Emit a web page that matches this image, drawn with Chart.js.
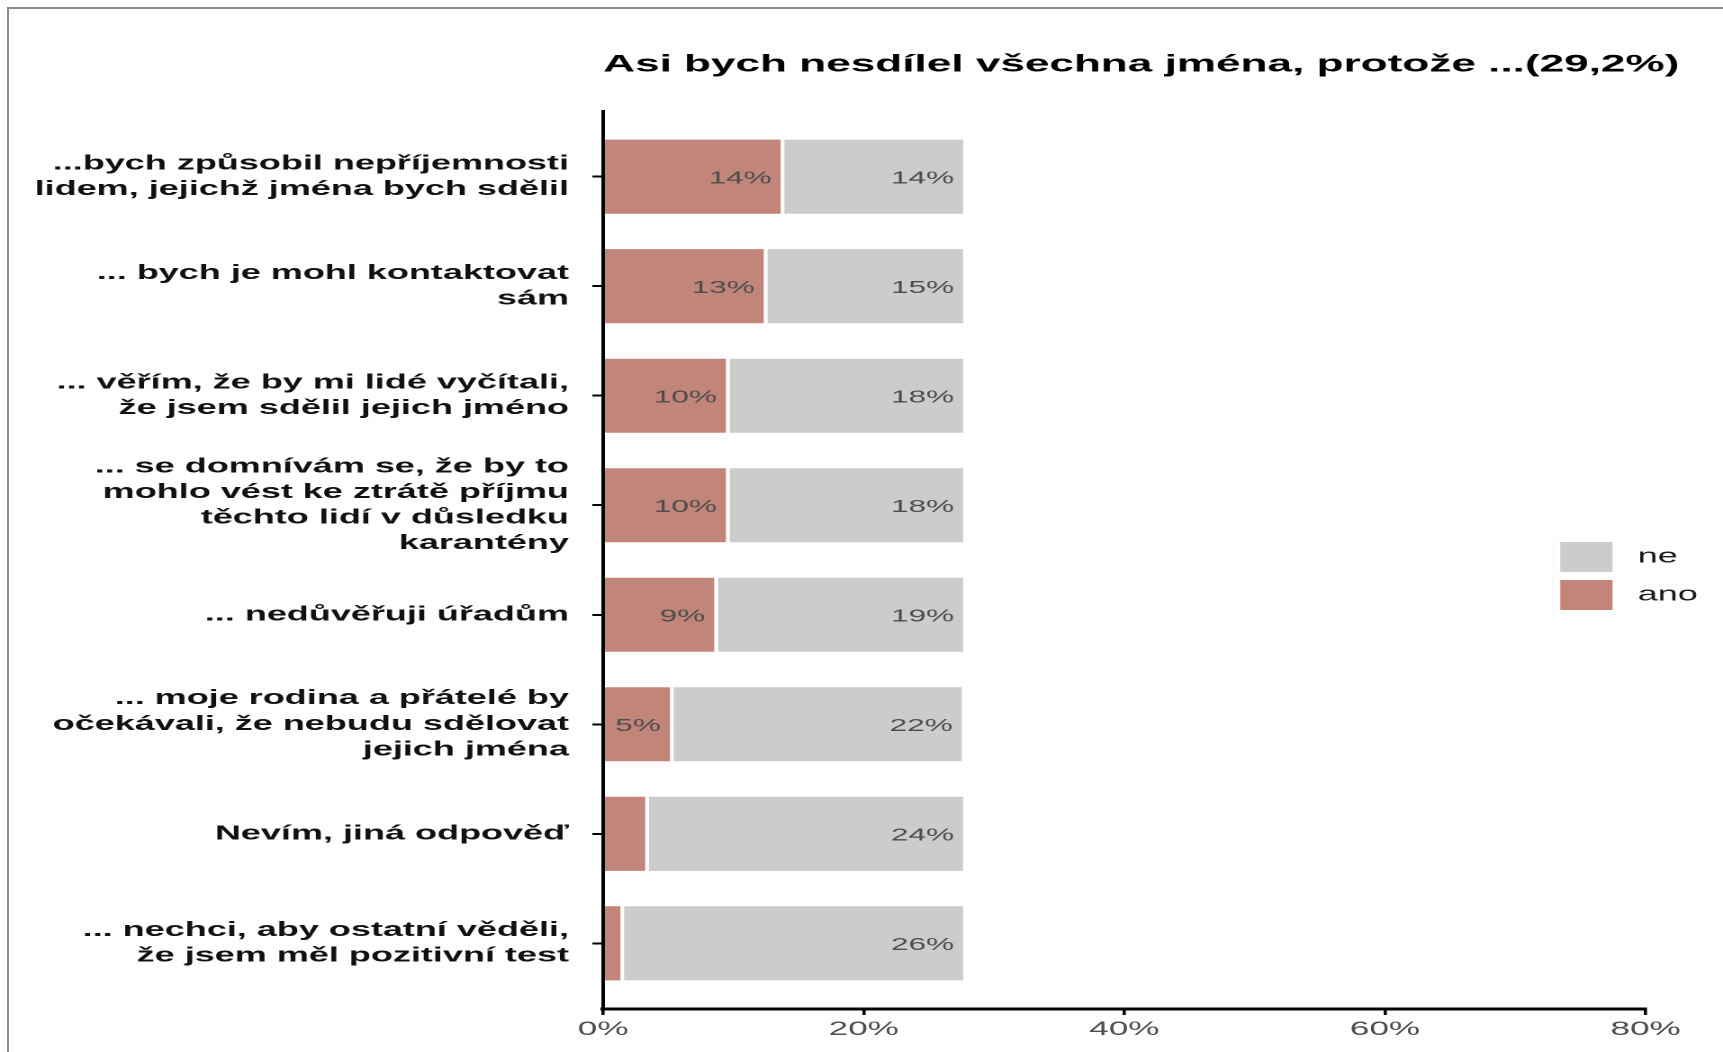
<!DOCTYPE html>
<html>
<head>
<meta charset="utf-8">
<title>Asi bych nesdílel všechna jména</title>
<script src="https://cdn.jsdelivr.net/npm/chart.js@4.4.1/dist/chart.umd.min.js"></script>
<style>
  html, body { margin: 0; padding: 0; background: #fff; overflow: hidden; }
  #wrap { position: relative; width: 1723px; height: 1052px; }
  /* the original picture is stretched sideways, so the canvas is too */
  #myChart { position: absolute; left: 0; top: 0; transform-origin: 0 0; transform: scaleX(1.80042); }
  #frame { position: absolute; left: 7px; top: 7px; right: -10px; bottom: -10px;
           border-left: 2px solid #8c8c8c; border-top: 2px solid #8c8c8c; pointer-events: none; }
</style>
</head>
<body>
<div id="wrap">
  <canvas id="myChart" width="957" height="1052"></canvas>
  <div id="frame"></div>
</div>
<script>
var titleText = "Asi bych nesdílel všechna jména, protože ...(29,2%)";

var categories = [
    ["...bych způsobil nepříjemnosti", "lidem, jejichž jména bych sdělil"],
    ["... bych je mohl kontaktovat", "sám"],
    ["... věřím, že by mi lidé vyčítali,", "že jsem sdělil jejich jméno"],
    ["... se domnívám se, že by to", "mohlo vést ke ztrátě příjmu", "těchto lidí v důsledku", "karantény"],
    ["... nedůvěřuji úřadům"],
    ["... moje rodina a přátelé by", "očekávali, že nebudu sdělovat", "jejich jména"],
    ["Nevím, jiná odpověď"],
    ["... nechci, aby ostatní věděli,", "že jsem měl pozitivní test"]
];

var ano = [13.9, 12.6, 9.7, 9.7, 8.8, 5.4, 3.5, 1.6];
var ne = [14.0, 15.3, 18.2, 18.2, 19.1, 22.4, 24.4, 26.3];

var xTicks = [0, 20, 40, 60, 80];

var fam = "'Liberation Sans', Arial, sans-serif";

// values printed inside the bars, right aligned at the end of each piece
var barLabels = {
    id: 'barLabels',
    afterDatasetsDraw(chart) {
        let ctx = chart.ctx;
        ctx.save();
        ctx.font = "17.5px " + fam;
        ctx.fillStyle = "#4d4d4d";
        ctx.textAlign = "right";
        ctx.textBaseline = "middle";
        chart.data.datasets.forEach(function(ds, di) {
            chart.getDatasetMeta(di).data.forEach(function(bar, i) {
                let v = ds.data[i];
                if (v < 4.5) return;
                ctx.fillText(Math.round(v) + "%", bar.x - 7, bar.y + 2);
            });
        });
        ctx.restore();
    }
};

// title starts at the y axis, legend sits inside the empty right part of the panel
var placeBoxes = {
    id: 'placeBoxes',
    afterLayout(chart) {
        let t = chart.titleBlock;
        t.left = chart.chartArea.left;
        t.right = chart.width;
        let lg = chart.legend;
        let w = lg.right - lg.left;
        lg.left = chart.scales.x.getPixelForValue(72.9);
        lg.right = lg.left + w;
        lg.top = 538;
        lg.bottom = chart.chartArea.bottom;
    }
};

const chart = new Chart("myChart", {
    type: "bar",
    data: {
        labels: categories.map(function(c, i) { return i; }),
        datasets: [
            {
                label: "ano",
                data: ano,
                backgroundColor: "#c1857a",
                borderColor: "#ffffff",
                borderWidth: 2
            },
            {
                label: "ne",
                data: ne,
                backgroundColor: "#cccccc",
                borderColor: "#ffffff",
                borderWidth: 2
            }
        ]
    },
    options: {
        indexAxis: "y",
        responsive: false,
        animation: false,
        devicePixelRatio: 2,
        events: [],
        categoryPercentage: 0.713,
        barPercentage: 1.0,
        layout: { padding: { left: 0, right: 43, top: 0, bottom: 0 } },
        scales: {
            x: {
                type: "linear",
                min: 0,
                max: 80,
                stacked: true,
                afterFit: function(s) { s.height = 43; },
                afterBuildTicks: function(s) { s.ticks = xTicks.map(function(v) { return { value: v }; }); },
                grid: { drawOnChartArea: false, drawTicks: true, tickLength: 6, color: "#000", lineWidth: 1.8 },
                border: { display: true, color: "#000", width: 3 },
                ticks: {
                    padding: 3,
                    color: "#4d4d4d",
                    font: { family: fam, size: 19.5 },
                    maxRotation: 0,
                    callback: function(v) { return v + "%"; }
                }
            },
            y: {
                type: "linear",
                min: -0.6,
                max: 7.6,
                reverse: true,
                stacked: true,
                offset: false,
                afterFit: function(s) { s.width = 335; },
                grid: { offset: false, drawOnChartArea: false, drawTicks: true, tickLength: 6, color: "#000", lineWidth: 2 },
                border: { display: true, color: "#000", width: 2 },
                ticks: {
                    stepSize: 1,
                    includeBounds: false,
                    autoSkip: false,
                    padding: 13,
                    color: "#111",
                    font: { family: fam, size: 20, weight: "bold", lineHeight: 1.28 },
                    callback: function(v) { return categories[v]; }
                }
            }
        },
        plugins: {
            title: {
                display: true,
                text: titleText,
                align: "start",
                color: "#000",
                font: { family: fam, size: 24.5, weight: "bold" },
                padding: { top: 50, bottom: 31.6 }
            },
            legend: {
                position: "chartArea",
                align: "start",
                reverse: true,
                labels: {
                    boxWidth: 37,
                    boxHeight: 38,
                    padding: 0,
                    color: "#1a1a1a",
                    font: { family: fam, size: 20 },
                    // thick white edge keeps the swatch small and pushes the text right
                    generateLabels: function(c) {
                        return Chart.defaults.plugins.legend.labels.generateLabels(c).map(function(item) {
                            item.lineWidth = 8;
                            return item;
                        });
                    }
                }
            },
            tooltip: { enabled: false }
        }
    },
    plugins: [barLabels, placeBoxes]
});
</script>
</body>
</html>
